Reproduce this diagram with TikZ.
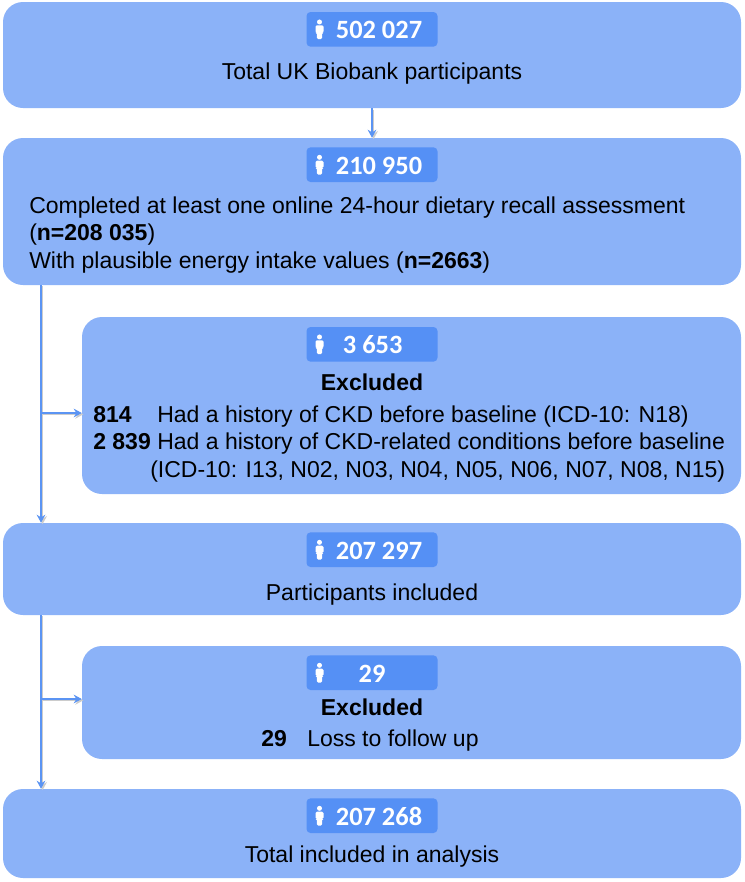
\documentclass[tikz,border=0pt]{standalone}
\usepackage{fontspec}
\setmainfont{Liberation Sans}
\newfontfamily\badgefont{Carlito}
\usepackage{xcolor}
\usetikzlibrary{arrows.meta, positioning}
\definecolor{boxblue}{HTML}{8BB2F8}
\definecolor{badgeblue}{HTML}{5590F5}
\definecolor{linkblue}{HTML}{5B94F3}
\newcommand{\personicon}{\tikz[baseline=0pt,x=0.75pt,y=0.75pt]{
    \fill (0,17.2) circle (2.5);
    \fill[rounded corners=1pt] (-4,13.8) -- (4,13.8) -- (4,6.5) -- (2.6,6.5) -- (2.6,0) -- (-2.6,0) -- (-2.6,6.5) -- (-4,6.5) -- cycle;}}
\begin{document}
\begin{tikzpicture}[x=0.75pt,y=-0.75pt,node distance=9pt,>={Stealth[length=6pt,width=6.5pt]},
        every node/.style={font=\fontsize{17.25}{20}\selectfont,text=black},
        flowbox/.style={fill=boxblue,rounded corners=15pt,minimum width=553.5pt,inner sep=0pt},
        sidebox/.style={fill=boxblue,rounded corners=15pt,minimum width=494.25pt,inner sep=0pt},
        badge/.style={fill=badgeblue,rounded corners=3pt,minimum width=98.25pt,minimum height=26pt,inner sep=0pt,
            text height=14.3pt,text depth=0pt,text=white,font=\badgefont\bfseries\fontsize{19.8}{22}\selectfont},
        line/.style={anchor=base west,inner sep=0pt},
        midline/.style={anchor=base,inner sep=0pt},
        link/.style={->,draw=linkblue,line width=1.6pt,preaction={draw=gray!40,->,transform canvas={xshift=1.2pt,yshift=-1pt}}}]
    \useasboundingbox (0,0) rectangle (744,882);

    % boxes
    \node[flowbox,minimum height=79.5pt] (box1) at (372,55) {};
    \node[flowbox,minimum height=110.25pt] (box2) at (372,211.5) {};
    \node[sidebox,minimum height=132.75pt] (box3) at (411.5,405.5) {};
    \node[flowbox,minimum height=69pt] (box4) at (372,569) {};
    \node[sidebox,minimum height=84.75pt] (box5) at (411.5,702.5) {};
    \node[flowbox,minimum height=66.75pt] (box6) at (372,833.5) {};
    \coordinate (top3) at (box1 |- box3.north);
    \coordinate (top5) at (box1 |- box5.north);

    % badges
    \node[badge,below=7.5pt of box1.north] (count1) {\hspace{10.5pt}502 027};
    \node[badge,below=7pt of box2.north] (count2) {\hspace{10.5pt}210 950};
    \node[badge,below=7.5pt of top3] (count3) {\hspace{1pt}3 653};
    \node[badge,below=7pt of box4.north] (count4) {\hspace{10.5pt}207 297};
    \node[badge,below=7pt of top5] (count5) {29};
    \node[badge,below=7pt of box6.north] (count6) {\hspace{10.5pt}207 268};
    \foreach \c in {count1,count2,count3,count4,count5,count6}
      \node[text=white,inner sep=0pt,right=6.75pt of \c.west] (\c icon) {\personicon};

    % texts
    \node[midline] (total) at (372,79) {Total UK Biobank participants};
    \node[line] (recall) at (29,213) {Completed at least one online 24-hour dietary recall assessment};
    \node[line] (recalln) at (29,240) {(\textbf{n=208 035})};
    \node[line] (energy) at (29,268) {With plausible energy intake values (\textbf{n=2663})};
    \node[midline] (excl1) at (372,390) {\textbf{Excluded}};
    \node[line] (ckdn) at (93,422) {\textbf{814}};
    \node[line] (ckd) at (157,422) {Had a history of CKD before baseline (ICD-10: N18)};
    \node[line] (relatedn) at (93,449) {\textbf{2 839}};
    \node[line] (related) at (157,449) {Had a history of CKD-related conditions before baseline};
    \node[line] (icd) at (150,477) {(ICD-10: I13, N02, N03, N04, N05, N06, N07, N08, N15)};
    \node[midline] (incl) at (372,600) {Participants included};
    \node[midline] (excl2) at (372,715) {\textbf{Excluded}};
    \node[line] (lossn) at (261,746) {\textbf{29}};
    \node[line] (loss) at (307,746) {Loss to follow up};
    \node[midline] (final) at (372,862) {Total included in analysis};

    % connectors
    \coordinate (trunk1) at (41,285);
    \coordinate (branch1) at (41,413);
    \coordinate (trunk2) at (41,615);
    \coordinate (branch2) at (41,699);
    \draw[link] (box1) -- (box2);
    \draw[link] (trunk1) -- (trunk1 |- box4.north);
    \draw[link] (branch1) -- (branch1 -| box3.west);
    \draw[link] (trunk2) -- (trunk2 |- box6.north);
    \draw[link] (branch2) -- (branch2 -| box5.west);
\end{tikzpicture}
\end{document}
